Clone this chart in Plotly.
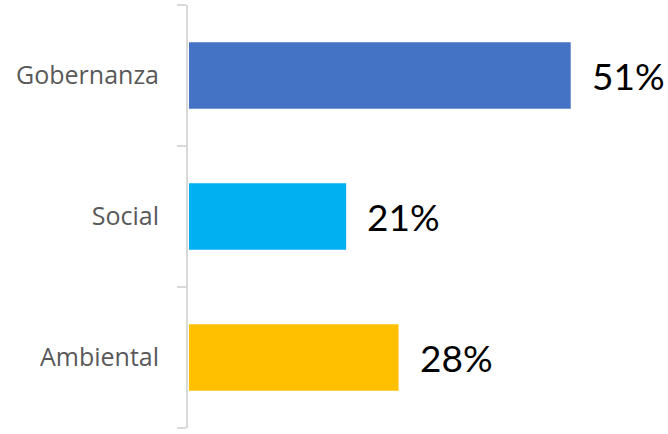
import plotly.graph_objects as go

# categories bottom to top, as drawn
categories = ["Ambiental", "Social", "Gobernanza"]
values = [28, 21, 51]
colors = ["#FFC000", "#00B0F0", "#4472C4"]
labels = [f"{v}%" for v in values]

bars = go.Bar(
    x=values,
    y=categories,
    orientation="h",
    marker=dict(color=colors, line=dict(width=0)),
    hoverinfo="skip",
)

fig = go.Figure(data=[bars])

# value labels just past the end of each bar
for cat, val, lab in zip(categories, values, labels):
    fig.add_annotation(
        x=val, y=cat, text=lab, showarrow=False,
        xanchor="left", yanchor="middle", xshift=19,
        font=dict(family="Lato, Liberation Sans, sans-serif", size=37, color="#000000"),
    )

fig.update_layout(
    width=668,
    height=434,
    margin=dict(l=188, r=0, t=5, b=6),
    paper_bgcolor="white",
    plot_bgcolor="white",
    bargap=0.53,
    showlegend=False,
    xaxis=dict(
        range=[-0.13, 64.0],
        showgrid=False,
        zeroline=False,
        showline=False,
        showticklabels=False,
        ticks="",
    ),
    yaxis=dict(
        range=[-0.5, 2.5],
        showgrid=False,
        zeroline=False,
        showline=True,
        linecolor="#d9d9d9",
        linewidth=2,
        ticks="outside",
        tickson="boundaries",
        ticklen=9,
        tickwidth=2,
        tickcolor="#d9d9d9",
        ticklabelstandoff=22,
        tickfont=dict(family="Open Sans, sans-serif", size=25, color="#595959"),
    ),
)

# page body margin would shift the chart by 8px
fig.write_html(
    "out.html",
    config={"displayModeBar": False},
    post_script="document.body.style.margin='0';",
)
